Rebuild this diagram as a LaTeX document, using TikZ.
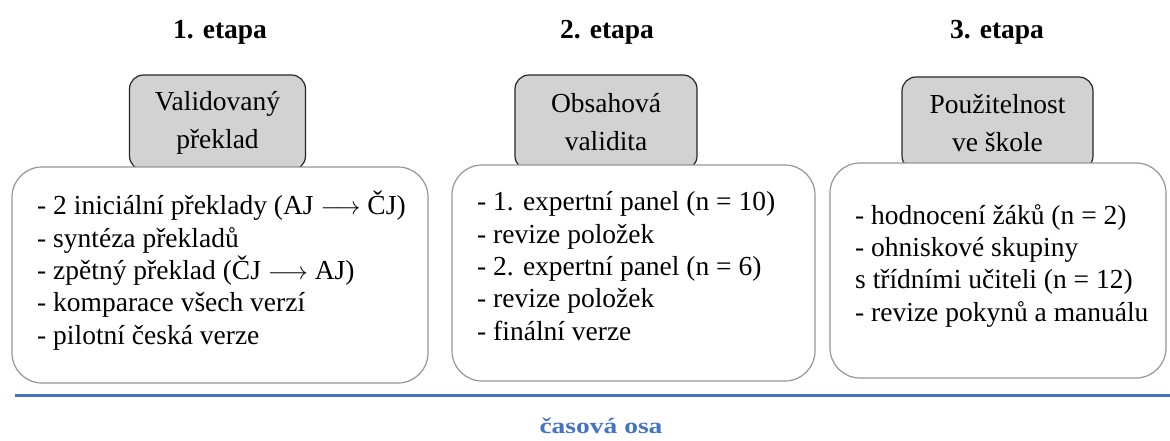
\documentclass[tikz,border=0pt]{standalone}
\usepackage{fontspec}
\setmainfont{Liberation Serif}
\definecolor{hdrgray}{RGB}{210,210,210}
\definecolor{boxline}{RGB}{150,150,150}
\definecolor{axisblue}{RGB}{68,114,196}
\definecolor{axislight}{RGB}{160,185,228}
\begin{document}
\begin{tikzpicture}[x=1pt,y=-1pt,
  header/.style={draw=black!85, line width=1.2pt, fill=hdrgray, rounded corners=14pt, inner sep=0pt, align=center, font=\fontsize{27.5}{38}\selectfont},
  body/.style={draw=boxline, line width=1.2pt, fill=white, rounded corners=30pt, inner sep=0pt},
  bodytext/.style={anchor=base west, align=left, inner sep=0pt, font=\fontsize{27.5}{32.3}\selectfont},
  title/.style={font=\fontsize{27.5}{30}\selectfont\bfseries, inner sep=0pt}]
\useasboundingbox (0,0) rectangle (1170,440);
\fill[white] (0,0) rectangle (1170,440);
% titles
\node[title] (t1) at (220,32) {1. etapa};
\node[title] (t2) at (607,32) {2. etapa};
\node[title] (t3) at (997,32) {3. etapa};
% headers
\node[header, minimum width=176pt, minimum height=95pt] (h1) at (217.5,122.5) {Validovaný\\překlad};
\node[header, minimum width=182pt, minimum height=95pt] (h2) at (606,122.5) {Obsahová\\validita};
\node[header, minimum width=191pt, minimum height=93pt] (h3) at (997.5,123.5) {Použitelnost\\ve škole};
% bodies
\node[body, minimum width=416pt, minimum height=216pt] (b1) at (220,275) {};
\node[body, minimum width=363pt, minimum height=216pt] (b2) at (633.5,273) {};
\node[body, minimum width=336pt, minimum height=215pt] (b3) at (998,270.5) {};
% body texts (base = baseline of last line)
\node[bodytext] (x1) at (37,344) {- 2 iniciální překlady (AJ $\longrightarrow$ ČJ)\\- syntéza překladů\\- zpětný překlad (ČJ $\longrightarrow$ AJ)\\- komparace všech verzí\\- pilotní česká verze};
\node[bodytext] (x2) at (477,340) {- 1. expertní panel (n = 10)\\- revize položek\\- 2. expertní panel (n = 6)\\- revize položek\\- finální verze};
\node[bodytext] (x3) at (855,321) {- hodnocení žáků (n = 2)\\- ohniskové skupiny\\s třídními učiteli (n = 12)\\- revize pokynů a manuálu};
% time axis
\shade[left color=axisblue, middle color=axislight, right color=axisblue] (15,394) rectangle (1170,396.5);
\node[inner sep=0pt, text=axisblue, font=\fontsize{22}{24}\selectfont\bfseries] (axis) at (601,426) {\scalebox{1.25}[1]{časová osa}};
\end{tikzpicture}
\end{document}
